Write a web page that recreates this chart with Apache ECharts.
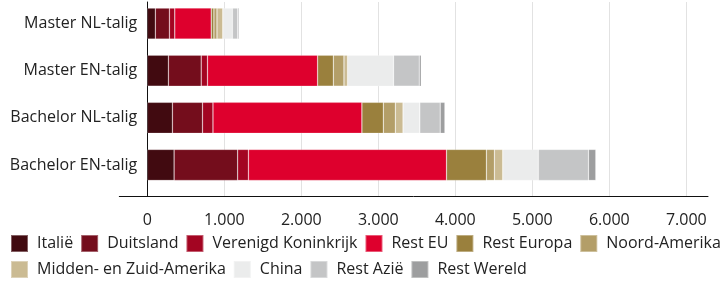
<!DOCTYPE html>
<html>
<head>
<meta charset="utf-8">
<script src="https://cdn.jsdelivr.net/npm/echarts@6/dist/echarts.min.js"></script>
<style>
  html, body { margin: 0; padding: 0; background: #fff; }
  #chart { width: 722px; height: 281px; }
</style>
</head>
<body>
<div id="chart"></div>
<script>
// categories, top to bottom
var categories = ["Master NL-talig", "Master EN-talig", "Bachelor NL-talig", "Bachelor EN-talig"];
var regions = ["Italië", "Duitsland", "Verenigd Koninkrijk", "Rest EU", "Rest Europa", "Noord-Amerika", "Midden- en Zuid-Amerika", "China", "Rest Azië", "Rest Wereld"];
var colors = ["#410a10", "#740d1c", "#a30522", "#de002d", "#9a803d", "#b39e68", "#cbbb93", "#ebecec", "#c4c5c6", "#9d9e9f"];

var italie = [104, 274, 326, 348];
var duitsland = [183, 426, 391, 826];
var verenigdKoninkrijk = [70, 82, 136, 139];
var restEU = [473, 1430, 1934, 2573];
var restEuropa = [35, 204, 278, 518];
var noordAmerika = [40, 138, 156, 104];
var middenZuidAmerika = [75, 48, 100, 108];
var china = [125, 596, 218, 462];
var restAzie = [70, 334, 265, 652];
var restWereld = [15, 26, 61, 95];

var xTicks = [0, 1000, 2000, 3000, 4000, 5000, 6000, 7000];

var values = [italie, duitsland, verenigdKoninkrijk, restEU, restEuropa, noordAmerika, middenZuidAmerika, china, restAzie, restWereld];

var font = "'Open Sans', 'Noto Sans', sans-serif";

function nl(v) {
  return String(v).replace(/\B(?=(\d{3})+(?!\d))/g, ".");
}

var series = [];
for (var i = 0; i < regions.length; i++) {
  series.push({
    name: regions[i],
    type: "bar",
    stack: "totaal",
    xAxisIndex: 0,
    yAxisIndex: 0,
    barWidth: 31,
    itemStyle: {
      color: colors[i],
      borderColor: "rgba(255,255,255,0.35)",
      borderWidth: 0.6
    },
    data: values[i]
  });
}

var option = {
  animation: false,
  color: colors,
  textStyle: { fontFamily: font },
  grid: [
    // bars
    { left: 147.3, right: 35.7, top: -4.5, height: 193 },
    // gridlines, y axis line, tick labels
    { left: 147.3, right: 35.7, top: 2, height: 194 },
    // long x axis line
    { left: 119.3, right: 14, top: 196, height: 0 }
  ],
  xAxis: [
    {
      gridIndex: 0, type: "value", min: xTicks[0], max: xTicks[xTicks.length - 1], interval: 1000,
      axisLine: { show: false }, axisTick: { show: false }, axisLabel: { show: false }, splitLine: { show: false }
    },
    {
      gridIndex: 1, type: "value", min: xTicks[0], max: xTicks[xTicks.length - 1], interval: 1000,
      axisLine: { show: false }, axisTick: { show: false },
      axisLabel: { margin: 16, fontSize: 16, color: "#222", fontFamily: font, formatter: nl },
      splitLine: { show: true, lineStyle: { color: "#e2e2e2", width: 1 } }
    },
    {
      gridIndex: 2, type: "value", min: 0, max: 1,
      axisLine: { show: true, lineStyle: { color: "#111", width: 1 } },
      axisTick: { show: false }, axisLabel: { show: false }, splitLine: { show: false }
    }
  ],
  yAxis: [
    {
      gridIndex: 0, type: "category", inverse: true, data: categories,
      axisLine: { show: false }, axisTick: { show: false },
      axisLabel: { margin: 10, fontSize: 16, color: "#222", fontFamily: font }
    },
    {
      gridIndex: 1, type: "category", data: categories,
      axisLine: { show: true, lineStyle: { color: "#111", width: 1 } },
      axisTick: { show: false }, axisLabel: { show: false }, splitLine: { show: false }
    },
    {
      gridIndex: 2, type: "value", show: false
    }
  ],
  legend: {
    left: 10,
    top: 234,
    padding: 0,
    width: 716,
    icon: "rect",
    itemWidth: 17,
    itemHeight: 17,
    itemGap: 7,
    textStyle: { fontSize: 16, color: "#222", fontFamily: font, padding: [0, 0, 0, 4] },
    data: regions
  },
  series: series
};

var chart = echarts.init(document.getElementById("chart"));
chart.setOption(option);
</script>
</body>
</html>
